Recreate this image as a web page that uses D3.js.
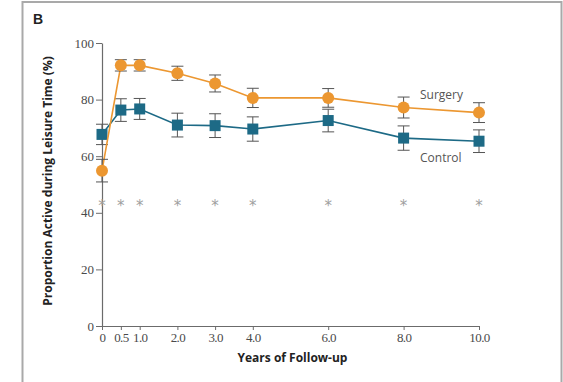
<!DOCTYPE html>
<html>
<head>
<meta charset="utf-8">
<script src="https://cdn.jsdelivr.net/npm/d3@7"></script>
<style>
  body { margin: 0; background: #fff; }
  svg { display: block; }
</style>
</head>
<body>
<svg id="canvas" width="563" height="382"></svg>
<script>
const years = [0, 0.5, 1, 2, 3, 4, 6, 8, 10];
const xTickLabels = ['0', '0.5', '1.0', '2.0', '3.0', '4.0', '6.0', '8.0', '10.0'];
const yTicks = [0, 20, 40, 60, 80, 100];

const surgery = [54.9, 92.1, 92.1, 89.3, 85.7, 80.6, 80.6, 77.2, 75.4];
const surgeryErr = [4.0, 2.0, 2.0, 2.5, 3.0, 3.4, 3.3, 3.7, 3.5];
const control = [67.7, 76.3, 76.7, 71.0, 70.8, 69.6, 72.6, 66.4, 65.3];
const controlErr = [3.6, 4.0, 3.7, 4.2, 4.2, 4.3, 4.0, 4.3, 4.0];
const signif = 43.6; // level of the asterisks

const settings = {
  left: 102, right: 479, top: 43, bottom: 326,
  orange: '#ec9731',
  teal: '#1d6a86',
  axis: '#6b6b6b',
};

const svg = d3.select('#canvas');

// panel frame
svg.append('path')
  .attr('d', 'M22.5,382 V2 H561.5 V382')
  .attr('fill', 'none')
  .attr('stroke', '#a9a9a9')
  .attr('stroke-width', 2);

svg.append('text')
  .attr('x', 33).attr('y', 24)
  .attr('font-family', 'Liberation Sans, Arial, sans-serif')
  .attr('font-weight', 'bold')
  .attr('font-size', 14)
  .attr('fill', '#222')
  .text('B');

const x = d3.scaleLinear().domain([0, 10]).range([settings.left, settings.right]);
const y = d3.scaleLinear().domain([0, 100]).range([settings.bottom, settings.top]);

const tickFont = 'Liberation Serif, Times New Roman, serif';

// y axis
const yAxis = svg.append('g')
  .attr('transform', `translate(${settings.left},0)`)
  .call(d3.axisLeft(y).tickValues(yTicks).tickSize(6).tickPadding(2).tickSizeOuter(0));

// x axis
const xAxis = svg.append('g')
  .attr('transform', `translate(0,${settings.bottom})`)
  .call(d3.axisBottom(x).tickValues(years).tickFormat((d, i) => xTickLabels[i])
    .tickSize(4).tickPadding(3).tickSizeOuter(0));

[yAxis, xAxis].forEach(g => {
  g.select('.domain').attr('stroke', settings.axis).attr('stroke-width', 1.2);
  g.selectAll('.tick line').attr('stroke', settings.axis);
  g.selectAll('.tick text')
    .attr('font-family', tickFont)
    .attr('font-size', 13)
    .attr('fill', '#4a4a4a');
});
xAxis.selectAll('.tick text').attr('letter-spacing', -0.6);

// axis titles
svg.append('text')
  .attr('x', (settings.left + settings.right) / 2 + 2)
  .attr('y', 362)
  .attr('text-anchor', 'middle')
  .attr('font-family', 'Open Sans, Liberation Sans, sans-serif')
  .attr('font-weight', 'bold')
  .attr('font-size', 12)
  .attr('fill', '#222')
  .text('Years of Follow-up');

svg.append('text')
  .attr('transform', 'translate(52,181) rotate(-90)')
  .attr('text-anchor', 'middle')
  .attr('font-family', 'Open Sans, Liberation Sans, sans-serif')
  .attr('font-weight', 'bold')
  .attr('font-size', 12)
  .attr('fill', '#222')
  .text('Proportion Active during Leisure Time (%)');

// asterisks
svg.append('g')
  .selectAll('text')
  .data(years)
  .join('text')
  .attr('x', d => x(d))
  .attr('y', y(signif) + 8)
  .attr('text-anchor', 'middle')
  .attr('font-family', 'DejaVu Sans, sans-serif')
  .attr('font-size', 15)
  .attr('fill', '#a0a0a0')
  .text('*');

const line = d3.line().x(d => x(d.t)).y(d => y(d.v));

function series(vals, errs, color, shape) {
  const data = years.map((t, i) => ({ t, v: vals[i], e: errs[i] }));
  const g = svg.append('g');

  g.append('path')
    .datum(data)
    .attr('d', line)
    .attr('fill', 'none')
    .attr('stroke', color)
    .attr('stroke-width', 1.6);

  // error bars
  const eb = g.append('g')
    .attr('stroke', '#555')
    .attr('stroke-width', 1);
  eb.selectAll('line.v')
    .data(data)
    .join('line')
    .attr('class', 'v')
    .attr('x1', d => x(d.t)).attr('x2', d => x(d.t))
    .attr('y1', d => y(d.v - d.e)).attr('y2', d => y(d.v + d.e));
  [-1, 1].forEach(s => {
    eb.selectAll(`line.c${s}`)
      .data(data)
      .join('line')
      .attr('class', `c${s}`)
      .attr('x1', d => x(d.t) - 6).attr('x2', d => x(d.t) + 6)
      .attr('y1', d => y(d.v + s * d.e)).attr('y2', d => y(d.v + s * d.e));
  });

  if (shape === 'circle') {
    g.selectAll('circle')
      .data(data)
      .join('circle')
      .attr('cx', d => x(d.t))
      .attr('cy', d => y(d.v))
      .attr('r', 6)
      .attr('fill', color);
  } else {
    g.selectAll('rect')
      .data(data)
      .join('rect')
      .attr('x', d => x(d.t) - 5.5)
      .attr('y', d => y(d.v) - 5.5)
      .attr('width', 11)
      .attr('height', 11)
      .attr('fill', color);
  }
}

series(control, controlErr, settings.teal, 'square');
series(surgery, surgeryErr, settings.orange, 'circle');

// series labels
const labelFont = 'Open Sans, Liberation Sans, sans-serif';
svg.append('text')
  .attr('x', 420).attr('y', 99)
  .attr('font-family', labelFont)
  .attr('font-size', 12)
  .attr('fill', '#555')
  .text('Surgery');
svg.append('text')
  .attr('x', 420).attr('y', 162)
  .attr('font-family', labelFont)
  .attr('font-size', 12)
  .attr('fill', '#555')
  .text('Control');
</script>
</body>
</html>
